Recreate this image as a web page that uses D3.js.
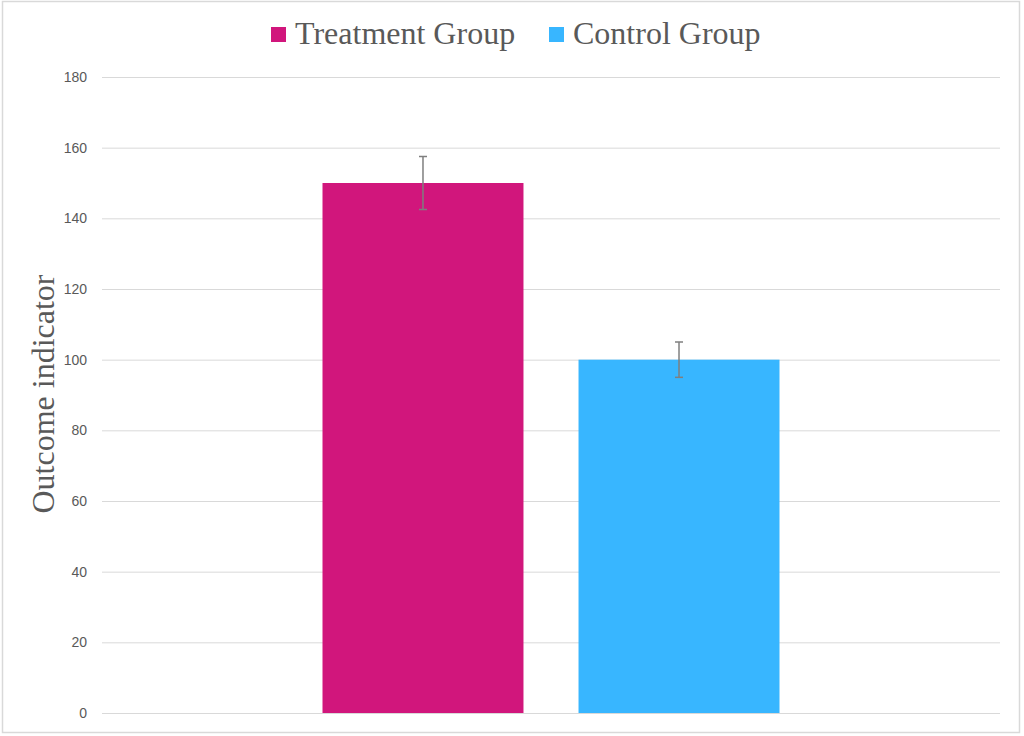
<!DOCTYPE html>
<html>
<head>
<meta charset="utf-8">
<script src="https://cdn.jsdelivr.net/npm/d3@7"></script>
<style>
  html, body { margin: 0; padding: 0; background: #fff; }
  svg { display: block; }
</style>
</head>
<body>
<svg id="chart" width="1024" height="736"></svg>
<script>
const categories = ["Outcome"];
const seriesNames = ["Treatment Group", "Control Group"];
const seriesColors = ["#d1167c", "#38b6ff"];
const seriesValues = [150, 100];
const seriesErrors = [7.5, 5];
const yTicks = [0, 20, 40, 60, 80, 100, 120, 140, 160, 180];
const yTitle = "Outcome indicator";

const svg = d3.select("#chart");
const W = 1024, H = 736;
const margin = { left: 102, right: 24, top: 77, bottom: 23 };

svg.append("rect")
  .attr("x", 2.5).attr("y", 1.5)
  .attr("width", 1017).attr("height", 731)
  .attr("fill", "#fff").attr("stroke", "#d9d9d9").attr("stroke-width", 1.5);

const y = d3.scaleLinear().domain([0, 180]).range([H - margin.bottom, margin.top]);
const x0 = d3.scaleBand().domain(categories).range([margin.left, W - margin.right]).paddingInner(0).paddingOuter(0.4825);
const x1 = d3.scaleBand().domain(seriesNames).range([0, x0.bandwidth()]).paddingInner(0.215).paddingOuter(0);

// gridlines
const grid = svg.append("g")
  .attr("transform", `translate(${margin.left},0)`)
  .call(d3.axisLeft(y).tickValues(yTicks).tickSize(-(W - margin.left - margin.right)).tickFormat(""));
grid.select(".domain").remove();
grid.selectAll("line").attr("stroke", "#d9d9d9").attr("stroke-width", 1);

// tick labels
const axis = svg.append("g")
  .attr("transform", `translate(${margin.left - 15},0)`)
  .call(d3.axisLeft(y).tickValues(yTicks).tickSize(0).tickPadding(0));
axis.select(".domain").remove();
axis.selectAll("text")
  .attr("fill", "#595959")
  .style("font-family", "'Liberation Sans', Arial, sans-serif")
  .style("font-size", "14px");

// bars
const data = seriesNames.map((s, i) => ({ cat: categories[0], name: s, value: seriesValues[i], err: seriesErrors[i], color: seriesColors[i] }));
const g = svg.append("g");
g.selectAll("rect.bar").data(data).enter().append("rect")
  .attr("class", "bar")
  .attr("x", d => x0(d.cat) + x1(d.name))
  .attr("width", x1.bandwidth())
  .attr("y", d => y(d.value))
  .attr("height", d => y(0) - y(d.value))
  .attr("fill", d => d.color);

// error bars
const eb = g.selectAll("g.err").data(data).enter().append("g").attr("class", "err");
const cx = d => x0(d.cat) + x1(d.name) + x1.bandwidth() / 2;
eb.append("line")
  .attr("x1", cx).attr("x2", cx)
  .attr("y1", d => y(d.value + d.err)).attr("y2", d => y(d.value - d.err))
  .attr("stroke", "#7f7f7f").attr("stroke-width", 1.5);
eb.selectAll("line.cap").data(d => [d.value + d.err, d.value - d.err].map(v => ({ v, d }))).enter().append("line")
  .attr("class", "cap")
  .attr("x1", o => cx(o.d) - 4).attr("x2", o => cx(o.d) + 4)
  .attr("y1", o => y(o.v)).attr("y2", o => y(o.v))
  .attr("stroke", "#7f7f7f").attr("stroke-width", 1.5);

// y title
svg.append("text")
  .attr("transform", `translate(54,394) rotate(-90)`)
  .attr("text-anchor", "middle")
  .attr("fill", "#595959")
  .style("font-family", "'Liberation Serif', 'Times New Roman', serif")
  .style("font-size", "32px")
  .text(yTitle);

// legend
const legendX = [271, 549];
const leg = svg.append("g");
seriesNames.forEach((s, i) => {
  leg.append("rect")
    .attr("x", legendX[i]).attr("y", 27)
    .attr("width", 15).attr("height", 15)
    .attr("fill", seriesColors[i]);
  leg.append("text")
    .attr("x", legendX[i] + 24).attr("y", 44)
    .attr("fill", "#595959")
    .style("font-family", "'Liberation Serif', 'Times New Roman', serif")
    .style("font-size", "32px")
    .text(s);
});
</script>
</body>
</html>
